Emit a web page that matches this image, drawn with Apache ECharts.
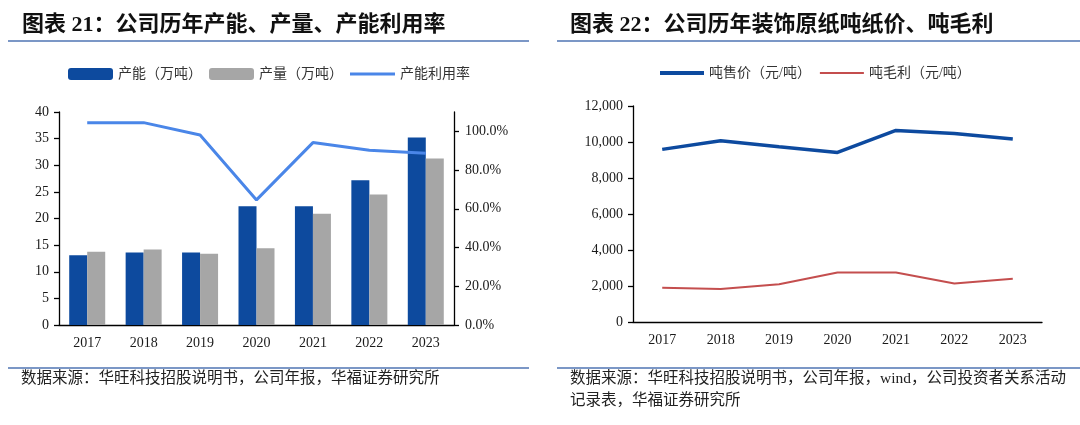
<!DOCTYPE html>
<html>
<head>
<meta charset="utf-8" />
<script src="https://cdn.jsdelivr.net/npm/echarts@6/dist/echarts.min.js"></script>
<style>
  html, body { margin: 0; padding: 0; background: #fff; }
  #main { width: 1080px; height: 425px; }
</style>
</head>
<body>
<div id="main"></div>
<script type="text/javascript">
	// 年份
	var years = ['2017', '2018', '2019', '2020', '2021', '2022', '2023'];
	// 图表21：产能、产量（万吨），产能利用率（%）
	var capacity = [13.1, 13.6, 13.6, 22.3, 22.3, 27.2, 35.2];
	var output = [13.75, 14.2, 13.4, 14.4, 20.9, 24.5, 31.25];
	var utilization = [104.5, 104.5, 98.1, 64.6, 94.2, 90.2, 88.7];
	// 图表22：吨售价、吨毛利（元/吨）
	var tonPrice = [9590, 10070, 9730, 9420, 10640, 10470, 10170];
	var tonMargin = [1900, 1840, 2100, 2750, 2750, 2140, 2400];
	// 右轴百分比刻度
	var pctTicks = [0, 20, 40, 60, 80, 100];

	var serif = "'Liberation Serif', 'Noto Sans CJK SC', serif";
	var txt = '#1a1a1a';
	var ruleColor = '#4f75b3';
	// 折线图例：细长横条
	var lineIcon = 'path://M0,0 H45 V3 H0 Z';
	var lineIconThin = 'path://M0,0 H44 V2 H0 Z';

	function axisX(grid) {
		return {
			type: 'category', gridIndex: grid, data: years,
			axisLine: { lineStyle: { color: '#000', width: 1.3 } },
			axisTick: { length: 5, lineStyle: { color: '#000', width: 1.3 } },
			axisLabel: { color: txt, fontFamily: serif, fontSize: 14, margin: 11 }
		};
	}

	var myChart = echarts.init(document.getElementById('main'));

	var option = {
		animation: false,
		title: [
			{ text: '图表 21：公司历年产能、产量、产能利用率', left: 22, top: 14, padding: 0,
			  textStyle: { fontFamily: serif, fontSize: 22, fontWeight: 'bold', color: '#111' } },
			{ text: '图表 22：公司历年装饰原纸吨纸价、吨毛利', left: 570, top: 14, padding: 0,
			  textStyle: { fontFamily: serif, fontSize: 22, fontWeight: 'bold', color: '#111' } }
		],
		legend: [
			{ left: 68, top: 67, padding: 0, itemWidth: 45, itemHeight: 12, itemGap: 7,
			  data: ['产能（万吨）', '产量（万吨）', { name: '产能利用率', icon: lineIcon }],
			  textStyle: { fontFamily: serif, fontSize: 14, color: '#333' } },
			{ left: 660, top: 66, padding: 0, itemWidth: 44, itemHeight: 12, itemGap: 9,
			  data: [{ name: '吨售价（元/吨）', icon: 'path://M0,0 H44 V4 H0 Z' },
			         { name: '吨毛利（元/吨）', icon: lineIconThin }],
			  textStyle: { fontFamily: serif, fontSize: 14, color: '#333' } }
		],
		grid: [
			{ left: 59, top: 112, width: 395, height: 213 },
			{ left: 633, top: 106, width: 409, height: 216 }
		],
		xAxis: [axisX(0), axisX(1)],
		yAxis: [
			{ type: 'value', gridIndex: 0, min: 0, max: 40, interval: 5,
			  axisLine: { show: true, lineStyle: { color: '#000', width: 1.3 } },
			  axisTick: { show: true, length: 5, lineStyle: { color: '#000', width: 1.3 } },
			  splitLine: { show: false },
			  axisLabel: { color: txt, fontFamily: serif, fontSize: 14, margin: 10 } },
			{ type: 'value', gridIndex: 0, position: 'right', min: 0, max: 110,
			  axisLine: { show: true, lineStyle: { color: '#000', width: 1.3 } },
			  axisTick: { show: true, length: 5, customValues: pctTicks,
			              lineStyle: { color: '#000', width: 1.3 } },
			  splitLine: { show: false },
			  axisLabel: { color: txt, fontFamily: serif, fontSize: 14, margin: 11,
			               customValues: pctTicks,
			               formatter: function (v) { return v.toFixed(1) + '%'; } } },
			{ type: 'value', gridIndex: 1, min: 0, max: 12000, interval: 2000,
			  axisLine: { show: true, lineStyle: { color: '#000', width: 1.3 } },
			  axisTick: { show: true, length: 5, lineStyle: { color: '#000', width: 1.3 } },
			  splitLine: { show: false },
			  axisLabel: { color: txt, fontFamily: serif, fontSize: 14, margin: 10,
			               formatter: function (v) { return v.toLocaleString('en-US'); } } }
		],
		series: [
			{ name: '产能（万吨）', type: 'bar', xAxisIndex: 0, yAxisIndex: 0,
			  data: capacity, barWidth: 18, barGap: '0%', itemStyle: { color: '#0d4a9e' } },
			{ name: '产量（万吨）', type: 'bar', xAxisIndex: 0, yAxisIndex: 0,
			  data: output, barWidth: 18, barGap: '0%', itemStyle: { color: '#a6a6a6' } },
			{ name: '产能利用率', type: 'line', xAxisIndex: 0, yAxisIndex: 1,
			  data: utilization, symbol: 'none', lineStyle: { color: '#4a86e8', width: 3 },
			  itemStyle: { color: '#4a86e8' } },
			{ name: '吨售价（元/吨）', type: 'line', xAxisIndex: 1, yAxisIndex: 2,
			  data: tonPrice, symbol: 'none', lineStyle: { color: '#0d4a9f', width: 3.5 },
			  itemStyle: { color: '#0d4a9f' } },
			{ name: '吨毛利（元/吨）', type: 'line', xAxisIndex: 1, yAxisIndex: 2,
			  data: tonMargin, symbol: 'none', lineStyle: { color: '#c44e4e', width: 2 },
			  itemStyle: { color: '#c44e4e' } }
		],
		graphic: [
			// 标题下划线、来源上方横线
			{ type: 'line', shape: { x1: 8, y1: 41, x2: 529, y2: 41 }, style: { stroke: ruleColor, lineWidth: 1.5 } },
			{ type: 'line', shape: { x1: 557, y1: 41, x2: 1080, y2: 41 }, style: { stroke: ruleColor, lineWidth: 1.5 } },
			{ type: 'line', shape: { x1: 8, y1: 368, x2: 529, y2: 368 }, style: { stroke: ruleColor, lineWidth: 1.5 } },
			{ type: 'line', shape: { x1: 557, y1: 368, x2: 1080, y2: 368 }, style: { stroke: ruleColor, lineWidth: 1.5 } },
			// 数据来源
			{ type: 'text', left: 21, top: 371,
			  style: { text: '数据来源：华旺科技招股说明书，公司年报，华福证券研究所',
			           font: '15.5px ' + serif, fill: '#222' } },
			{ type: 'text', left: 570, top: 371,
			  style: { text: '数据来源：华旺科技招股说明书，公司年报，wind，公司投资者关系活动',
			           font: '15.5px ' + serif, fill: '#222' } },
			{ type: 'text', left: 570, top: 393,
			  style: { text: '记录表，华福证券研究所',
			           font: '15.5px ' + serif, fill: '#222' } }
		]
	};

	myChart.setOption(option);
</script>
</body>
</html>
